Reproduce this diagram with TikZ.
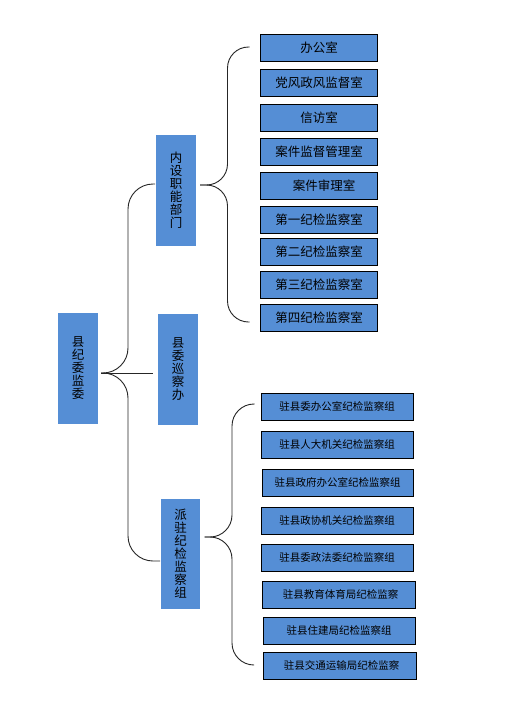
\documentclass[tikz,border=0pt]{standalone}
\usepackage{fontspec}
\usetikzlibrary{calc}
\newfontfamily\cjk{Noto Sans CJK SC}
\definecolor{boxblue}{RGB}{85,142,213}
\begin{document}
\begin{tikzpicture}[x=1pt,y=-1pt,
  vbox/.style={fill=boxblue, draw=none, minimum width=40pt, minimum height=111pt, inner sep=0pt, align=center,
    font=\cjk\fontsize{12.5}{13}\selectfont},
  tbox/.style={fill=boxblue, draw=black, line width=0.9pt, minimum width=117pt, minimum height=27pt, inner sep=0pt,
    font=\cjk\fontsize{12.5}{14}\selectfont},
  bbox/.style={fill=boxblue, draw=black, line width=0.9pt, minimum width=152pt, minimum height=27pt, inner sep=0pt,
    font=\cjk\fontsize{10.5}{12}\selectfont},
  br/.style={draw=black!85, line width=0.9pt}]
\useasboundingbox (0,0) rectangle (530,728);
\fill[white] (0,0) rectangle (530,728);

% left / middle nodes
\node[vbox] (A) at (78,368.5) {县\\纪\\委\\监\\委};
\node[vbox] (B) at (176,190.5) {内\\设\\职\\能\\部\\门};
\node[vbox] (C) at (178,369.5) {县\\委\\巡\\察\\办};
\node[vbox, minimum width=39pt, minimum height=110pt] (D) at (180.5,554) {派\\驻\\纪\\检\\监\\察\\组};

% top boxes
\node[tbox] (t1) at (319,48) {办公室};
\node[tbox] (t2) at (319,82.5) {党风政风监督室};
\node[tbox] (t3) at (319,117.5) {信访室};
\node[tbox] (t4) at (319,151.5) {案件监督管理室};
\node[tbox] (t5) at (319,185.5) {\hspace*{10pt}案件审理室};
\node[tbox] (t6) at (319,219.5) {第一纪检监察室};
\node[tbox] (t7) at (319,251.5) {第二纪检监察室};
\node[tbox] (t8) at (319,284.5) {第三纪检监察室};
\node[tbox] (t9) at (319,317.5) {第四纪检监察室};

% bottom boxes
\node[bbox] (b1) at (337,406.5) {驻县委办公室纪检监察组};
\node[bbox] (b2) at (337,444.5) {驻县人大机关纪检监察组};
\node[bbox, minimum width=151pt] (b3) at (337.5,482.5) {驻县政府办公室纪检监察组};
\node[bbox] (b4) at (337,520.5) {驻县政协机关纪检监察组};
\node[bbox] (b5) at (337,557.5) {驻县委政法委纪检监察组};
\node[bbox, minimum width=153pt] (b6) at (338.5,594.5) {\hspace*{4pt}驻县教育体育局纪检监察};
\node[bbox] (b7) at (339,630.5) {驻县住建局纪检监察组};
\node[bbox, minimum width=153pt] (b8) at (339.5,665.5) {\hspace*{4pt}驻县交通运输局纪检监察};

% brace coordinates
\coordinate (mtip) at ($(A.east)+(3,4.5)$);
\coordinate (mtop) at (155,184);
\coordinate (mbot) at (160,561);
\coordinate (utip) at ($(B.east)+(4,-5.5)$);
\coordinate (utop) at ($(t1.west)+(-10.5,-1)$);
\coordinate (ubot) at ($(t9.west)+(-10.5,4.5)$);
\coordinate (ltip) at ($(D.east)+(4.5,-17)$);
\coordinate (ltop) at ($(b1.west)+(-6,-2.5)$);
\coordinate (lbot) at ($(b8.west)+(-8.5,-0.5)$);

% main brace
\draw[br, rounded corners=25pt] (mtip) -- (128,373) -- (128,184) -- (mtop);
\draw[br, rounded corners=25pt] (mtip) -- (128,373) -- (128,561) -- (mbot);
\draw[br] (mtip) -- ($(C.west)+(-5,3.5)$);

% upper brace
\draw[br, rounded corners=21pt] (utip) -- (227.5,185) -- (227.5,47) -- (utop);
\draw[br, rounded corners=21pt] (utip) -- (227.5,185) -- (227.5,322) -- (ubot);

% lower brace
\draw[br, rounded corners=22pt] (ltip) -- (232,537) -- (232,404) -- (ltop);
\draw[br, rounded corners=22pt] (ltip) -- (232,537) -- (232,665) -- (lbot);
\end{tikzpicture}
\end{document}
